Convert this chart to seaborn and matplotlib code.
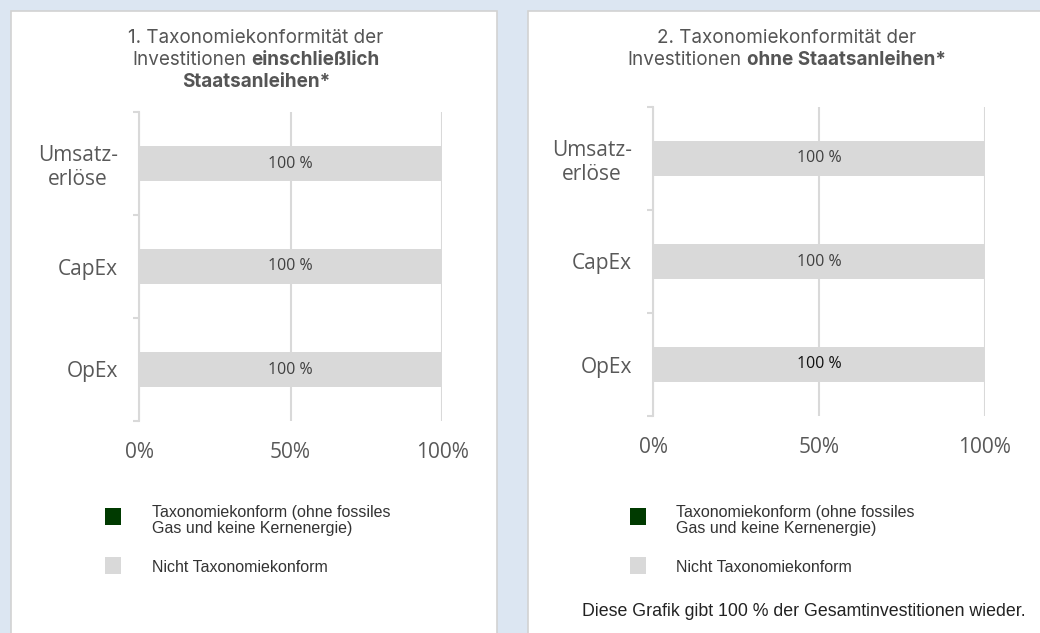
import matplotlib
matplotlib.use("Agg")
import matplotlib.pyplot as plt
import seaborn as sns
import pandas as pd
from matplotlib.patches import Rectangle

# data
categories = ["Umsatz-\nerlöse", "CapEx", "OpEx"]
aligned_incl = [0, 0, 0]          # Taxonomiekonform (ohne fossiles Gas und keine Kernenergie)
not_aligned_incl = [100, 100, 100]
aligned_excl = [0, 0, 0]
not_aligned_excl = [100, 100, 100]
x_ticks = [0, 50, 100]
x_ticklabels = ["0%", "50%", "100%"]
legend_labels = ["Taxonomiekonform (ohne fossiles\nGas und keine Kernenergie)", "Nicht Taxonomiekonform"]
legend_colors = ["#003a00", "#d9d9d9"]

W, H = 1040, 633
BG = "#dce6f2"
GRID = "#d9d9d9"
TICK_COL = "#595959"

sns.set_theme(style="white")
plt.rcParams["font.family"] = ["Open Sans", "DejaVu Sans"]

fig = plt.figure(figsize=(W / 100, H / 100), dpi=100, facecolor=BG)

def fx(px):
    return px / W

def fy(py):
    return 1 - py / H

# white panels
fig.add_artist(Rectangle((fx(11), fy(640)), fx(486), (640 - 11) / H, transform=fig.transFigure,
                         facecolor="white", edgecolor="#d2d2d2", linewidth=1.2, zorder=0))
fig.add_artist(Rectangle((fx(528), fy(640)), fx(530), (640 - 11) / H, transform=fig.transFigure,
                         facecolor="white", edgecolor="#d2d2d2", linewidth=1.2, zorder=0))


def draw_panel(ax, aligned, not_aligned, label_colors):
    df = pd.DataFrame({"cat": categories, "aligned": aligned, "not_aligned": not_aligned})
    sns.barplot(data=df, x="aligned", y="cat", orient="h", color=legend_colors[0],
                width=0.34, linewidth=0, ax=ax)
    sns.barplot(data=df, x="not_aligned", y="cat", orient="h", color=legend_colors[1],
                width=0.34, linewidth=0, ax=ax)
    labels = ax.bar_label(ax.containers[-1], labels=[f"{v} %" for v in not_aligned],
                          label_type="center", fontsize=11.5)
    for t, c in zip(labels, label_colors):
        t.set_color(c)
    ax.set_xlim(0, 100)
    ax.set_ylim(2.5, -0.5)
    ax.set_xticks(x_ticks)
    ax.set_xticklabels(x_ticklabels)
    ax.set_xlabel("")
    ax.set_ylabel("")
    ax.grid(axis="x", color=GRID, linewidth=1.5)
    ax.set_axisbelow(True)
    for s in ["top", "right", "bottom"]:
        ax.spines[s].set_visible(False)
    ax.spines["left"].set_color(GRID)
    ax.spines["left"].set_linewidth(1.5)
    ax.set_yticks([-0.5, 0.5, 1.5, 2.5], minor=True)
    ax.tick_params(axis="y", which="minor", left=True, length=4.5, width=1.5, color=GRID)
    ax.tick_params(axis="y", which="major", length=0, pad=15, labelsize=15, labelcolor=TICK_COL)
    ax.tick_params(axis="x", length=0, pad=15, labelsize=15, labelcolor=TICK_COL)
    for t in ax.get_yticklabels():
        t.set_multialignment("center")


ax1 = fig.add_axes([fx(139), fy(421), fx(303), 309 / H])
draw_panel(ax1, aligned_incl, not_aligned_incl, ["#404040"] * 3)
ax2 = fig.add_axes([fx(653), fy(416), fx(332), 309 / H])
draw_panel(ax2, aligned_excl, not_aligned_excl, ["#404040", "#404040", "#111111"])

renderer = fig.canvas.get_renderer()


def rich_line(xc, yc, parts, size=13.6, color="#555555"):
    texts = []
    for s, w in parts:
        t = fig.text(0, fy(yc), s, fontsize=size, fontweight=w, color=color, va="center",
                     ha="left", family=["Inter", "DejaVu Sans"])
        texts.append(t)
    widths = [t.get_window_extent(renderer).width for t in texts]
    gap = 0.28 * size * 100 / 72
    total = sum(widths) + gap * (len(texts) - 1)
    x = xc - total / 2
    for t, w in zip(texts, widths):
        t.set_x(fx(x))
        x += w + gap


rich_line(256, 38, [("1. Taxonomiekonformität der", "normal")])
rich_line(256, 60, [("Investitionen", "normal"), ("einschließlich", "bold")])
rich_line(256, 82, [("Staatsanleihen*", "bold")])
rich_line(787, 38, [("2. Taxonomiekonformität der", "normal")])
rich_line(787, 60, [("Investitionen", "normal"), ("ohne Staatsanleihen*", "bold")])


def legend(x_sq, x_txt):
    sq_centers = [516, 565]
    text_tops = [505, 560]
    for yc, yt, lab, col in zip(sq_centers, text_tops, legend_labels, legend_colors):
        fig.add_artist(Rectangle((fx(x_sq), fy(yc + 8.5)), fx(16), 17 / H, transform=fig.transFigure,
                                 facecolor=col, edgecolor="none"))
        fig.text(fx(x_txt), fy(yt), lab, fontsize=11.5, color="#333333", va="top", ha="left",
                 family=["Liberation Sans", "DejaVu Sans"], linespacing=1.12)


legend(105, 152)
legend(630, 676)

fig.text(fx(582), fy(612), "Diese Grafik gibt 100 % der Gesamtinvestitionen wieder.", fontsize=12.8,
         color="#222222", va="center", ha="left", family=["Liberation Sans", "DejaVu Sans"])

fig.savefig("out.png", dpi=100, facecolor=BG)
